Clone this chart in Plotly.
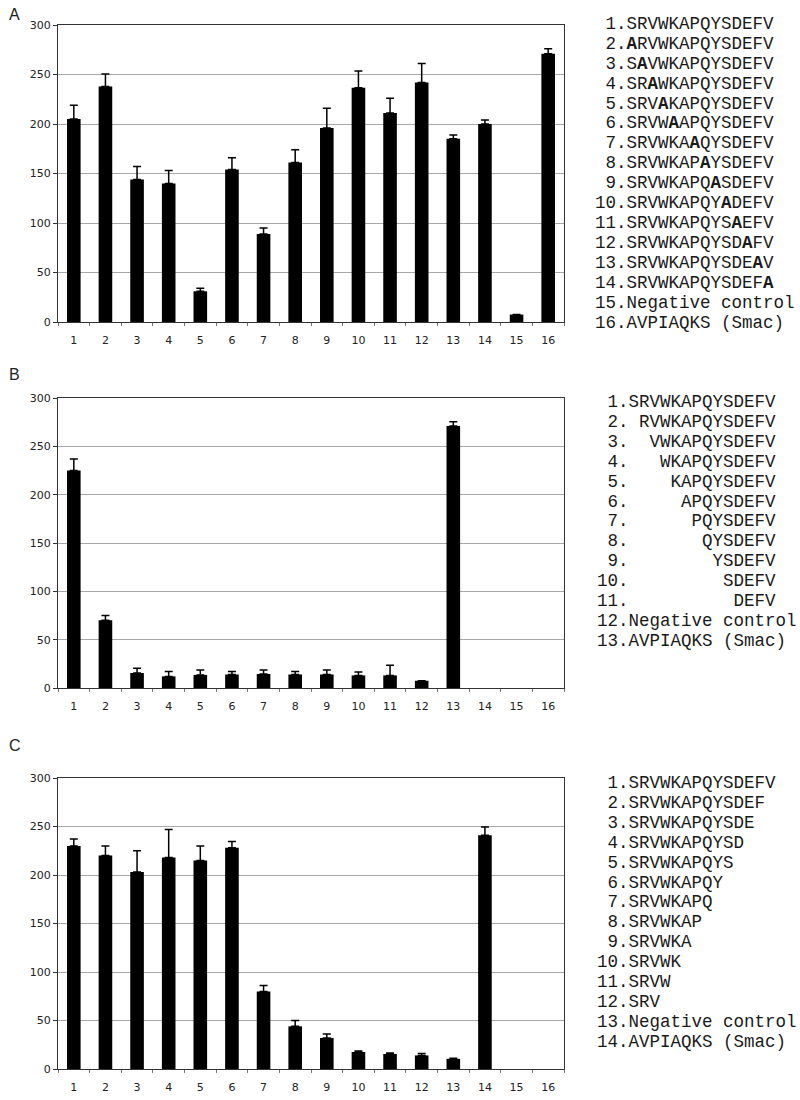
import plotly.graph_objects as go

# ---- data ----
categories = [str(i) for i in range(1, 17)]

a_vals = [205, 238, 144, 140, 31, 154, 89, 161, 196, 236.5, 211, 242, 185, 200, 7.5, 271]
a_err = [14, 12.5, 13, 13, 3, 12, 6, 13, 20, 17, 15, 19, 4, 4, 0, 5]

b_vals = [225, 70, 15.5, 12, 13.5, 14, 14.5, 14, 14, 13, 13, 7.5, 271]
b_err = [12, 5, 5, 5, 5, 3, 4, 3, 4.5, 3.5, 10.5, 0, 4.5]

c_vals = [230, 220, 203, 218, 215, 228, 80, 44, 32, 17.5, 15.5, 14, 10.5, 241]
c_err = [7, 10, 22, 29, 15, 6.5, 6, 6, 4, 1, 1, 2, 0.5, 8.5]

a_labels = [
    "SRVWKAPQYSDEFV",
    "<b>A</b>RVWKAPQYSDEFV",
    "S<b>A</b>VWKAPQYSDEFV",
    "SR<b>A</b>WKAPQYSDEFV",
    "SRV<b>A</b>KAPQYSDEFV",
    "SRVW<b>A</b>APQYSDEFV",
    "SRVWKA<b>A</b>QYSDEFV",
    "SRVWKAP<b>A</b>YSDEFV",
    "SRVWKAPQ<b>A</b>SDEFV",
    "SRVWKAPQY<b>A</b>DEFV",
    "SRVWKAPQYS<b>A</b>EFV",
    "SRVWKAPQYSD<b>A</b>FV",
    "SRVWKAPQYSDE<b>A</b>V",
    "SRVWKAPQYSDEF<b>A</b>",
    "Negative control",
    "AVPIAQKS (Smac)",
]
b_peptides = ["SRVWKAPQYSDEFV", "RVWKAPQYSDEFV", "VWKAPQYSDEFV", "WKAPQYSDEFV",
              "KAPQYSDEFV", "APQYSDEFV", "PQYSDEFV", "QYSDEFV", "YSDEFV",
              "SDEFV", "DEFV"]
c_peptides = ["SRVWKAPQYSDEFV", "SRVWKAPQYSDEF", "SRVWKAPQYSDE", "SRVWKAPQYSD",
              "SRVWKAPQYS", "SRVWKAPQY", "SRVWKAPQ", "SRVWKAP", "SRVWKA",
              "SRVWK", "SRVW", "SRV"]
controls = ["Negative control", "AVPIAQKS (Smac)"]

b_labels = [p.rjust(14) for p in b_peptides] + controls
c_labels = c_peptides + controls

# ---- page geometry (pixels) ----
W, H = 800, 1100
ML, MR, MT, MB = 58, 236, 25, 31


def px_x(x):
    return (x - ML) / (W - ML - MR)


def px_y(y):
    return 1 - (y - MT) / (H - MT - MB)


panels = [
    # letter, values, errors, labels, plot top, plot bottom, text x, letter y, first text line y
    ("A", a_vals, a_err, a_labels, 25, 322, 593, 15, 24),
    ("B", b_vals, b_err, b_labels, 398, 688, 595, 374, 402),
    ("C", c_vals, c_err, c_labels, 778, 1069, 595, 745, 783),
]

fig = go.Figure()
annotations = []
mono = dict(family="Courier New, Liberation Mono, monospace", size=17.5, color="#1a1a1a")
tick_font = dict(family="DejaVu Sans", size=11, color="#222")

for i, (letter, vals, err, labels, top, bottom, tx, ly, ty) in enumerate(panels):
    n = i + 1
    xa = "x" if n == 1 else f"x{n}"
    ya = "y" if n == 1 else f"y{n}"
    fig.add_trace(go.Bar(
        x=categories[:len(vals)], y=vals,
        marker=dict(color="black", line=dict(width=0)),
        error_y=dict(type="data", array=err, arrayminus=[0] * len(err), symmetric=False,
                     color="black", thickness=1.5, width=4),
        xaxis=xa, yaxis=ya, showlegend=False,
    ))
    axis_x = dict(
        domain=[0, 1], anchor=ya, type="category", automargin=False,
        categoryorder="array", categoryarray=categories, range=[-0.5, 15.5],
        showline=True, linecolor="#333", linewidth=1, mirror=True,
        ticks="outside", tickson="boundaries", ticklen=3, tickcolor="#777",
        ticklabelstandoff=8,
        showgrid=False, tickfont=tick_font,
    )
    axis_y = dict(
        domain=[px_y(bottom), px_y(top)], anchor=xa, range=[0, 300], dtick=50,
        automargin=False,
        showline=True, linecolor="#333", linewidth=1, mirror=True,
        ticks="outside", ticklen=4, tickcolor="#333",
        showgrid=True, gridcolor="#a8a8a8", gridwidth=1, zeroline=False,
        tickfont=tick_font,
    )
    fig.layout["xaxis" if n == 1 else f"xaxis{n}"] = axis_x
    fig.layout["yaxis" if n == 1 else f"yaxis{n}"] = axis_y

    annotations.append(dict(
        text=letter, x=px_x(7), y=px_y(ly), xref="paper", yref="paper",
        xanchor="left", yanchor="middle", showarrow=False,
        font=dict(family="Liberation Sans, Arial", size=16, color="#222"),
    ))
    for k, lab in enumerate(labels):
        line = f"{k + 1:>2}." + lab
        annotations.append(dict(
            text=line.replace(" ", "\u00a0"),
            x=px_x(tx), y=px_y(ty + 19.9 * k), xref="paper", yref="paper",
            xanchor="left", yanchor="middle", showarrow=False, font=mono,
        ))

fig.update_layout(
    width=W, height=H,
    margin=dict(l=ML, r=MR, t=MT, b=MB, autoexpand=False),
    paper_bgcolor="white", plot_bgcolor="white",
    bargap=0.57,
    annotations=annotations,
)

# drop the default page margin so the figure sits at the window's corner
fig.write_html("out.html", config={"displayModeBar": False},
               post_script="document.body.style.margin='0';")
